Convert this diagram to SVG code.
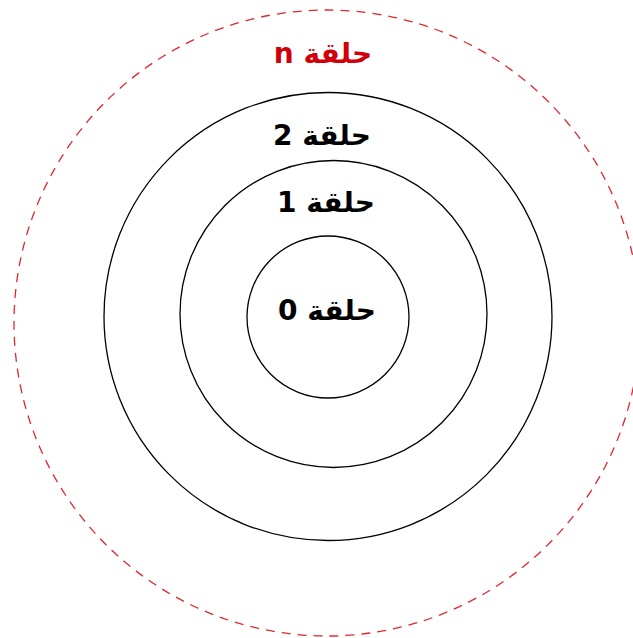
<svg xmlns="http://www.w3.org/2000/svg" width="633" height="638" viewBox="0 0 633 638">
<style>
.ring{fill:none;stroke:#000;stroke-width:1.3}
.dash{fill:none;stroke:#e0262f;stroke-width:1.3;stroke-dasharray:9,7}
.lbl{font-family:"DejaVu Sans","Noto Sans",sans-serif;font-weight:bold;font-size:28px;text-anchor:middle;direction:rtl}
</style>
<rect width="633" height="638" fill="#fff"/>
<g id="ring-n"><circle class="dash" cx="327" cy="323" r="313"/><text class="lbl" x="323" y="63" fill="#d0000b" direction="rtl">حلقة n</text></g>
<g id="ring-2"><circle class="ring" cx="328" cy="316.5" r="224"/><text class="lbl" x="322" y="145" direction="rtl">حلقة 2</text></g>
<g id="ring-1"><circle class="ring" cx="333.5" cy="314" r="153.5"/><text class="lbl" x="326" y="212" direction="rtl">حلقة 1</text></g>
<g id="ring-0"><circle class="ring" cx="328" cy="317" r="81"/><text class="lbl" x="327" y="320" direction="rtl">حلقة 0</text></g>
<g id="connectors"/>
</svg>
